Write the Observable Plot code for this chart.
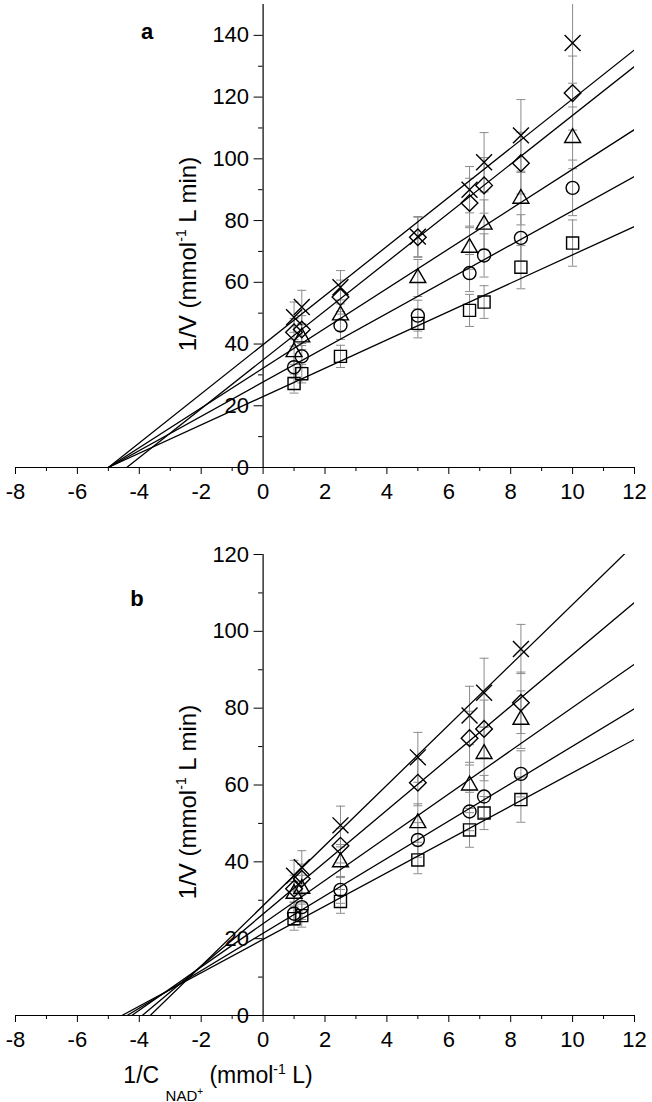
<!DOCTYPE html>
<html><head><meta charset="utf-8">
<script src="https://cdn.jsdelivr.net/npm/d3@7"></script>
<script src="https://cdn.jsdelivr.net/npm/@observablehq/plot@0.6"></script>
<style>body{margin:0;background:#fff} #chart svg{display:block}</style>
</head><body><div id="chart"></div>
<script>
// ---- data ----
const seriesNames = ["square", "circle", "triangle", "diamond", "cross"];
const symbols = ["square", "circle", "triangle", "diamond2", "times"];
const symbolR = [6.8, 6.5, 5.9, 7.5, 7.3];

const xTicks = [-8, -6, -4, -2, 0, 2, 4, 6, 8, 10, 12];
const xMinor = [-7, -5, -3, -1, 1, 3, 5, 7, 9, 11];

// panel a
const xA = [1, 1.25, 2.5, 5, 6.67, 7.14, 8.33, 10];
const aSquare   = [27.2, 30.4, 36.0, 46.7, 50.9, 53.6, 64.9, 72.7];
const aCircle   = [32.5, 36.0, 46.0, 49.2, 63.0, 68.7, 74.4, 90.6];
const aTriangle = [37.4, 42.2, 49.3, 61.4, 71.2, 78.7, 87.1, 106.8];
const aDiamond  = [43.8, 44.7, 55.2, 74.6, 85.7, 91.4, 98.6, 121.3];
const aCross    = [48.7, 52.0, 58.4, 74.8, 90.0, 98.9, 107.6, 137.5];
const aSquareErr   = [3.1, 3.0, 3.6, 4.7, 5.2, 5.3, 7.0, 7.5];
const aCircleErr   = [3.5, 3.5, 4.5, 5.0, 6.0, 7.0, 7.5, 9.0];
const aTriangleErr = [4.0, 4.0, 5.0, 6.0, 7.0, 8.0, 8.5, 10.0];
const aDiamondErr  = [4.5, 4.5, 5.5, 6.5, 8.0, 9.0, 10.0, 12.0];
const aCrossErr    = [4.9, 5.4, 5.4, 6.5, 7.5, 9.6, 11.6, 13.0];
const aSlopes     = [4.59, 5.55, 6.44, 7.92, 7.96];
const aIntercepts = [23.0, 27.7, 32.2, 34.9, 39.8];
const aYTicks = [0, 20, 40, 60, 80, 100, 120, 140];
const aYMinor = [10, 30, 50, 70, 90, 110, 130];

// panel b
const xB = [1, 1.25, 2.5, 5, 6.67, 7.14, 8.33];
const bSquare   = [25.2, 26.0, 29.7, 40.5, 48.3, 52.7, 56.2];
const bCircle   = [26.5, 28.2, 32.7, 45.7, 53.1, 57.0, 62.9];
const bTriangle = [31.7, 33.0, 39.9, 50.1, 59.9, 68.1, 77.0];
const bDiamond  = [33.0, 35.6, 44.2, 60.6, 72.2, 74.6, 81.4];
const bCross    = [36.4, 38.6, 49.5, 67.2, 78.1, 84.0, 95.4];
const bSquareErr   = [3.0, 3.0, 3.1, 3.6, 4.5, 4.3, 5.9];
const bCircleErr   = [3.0, 3.2, 3.5, 4.5, 5.0, 5.5, 6.0];
const bTriangleErr = [3.2, 3.5, 4.0, 5.0, 6.0, 7.0, 7.5];
const bDiamondErr  = [3.5, 3.8, 4.5, 6.0, 7.0, 7.5, 8.0];
const bCrossErr    = [4.0, 4.3, 5.0, 6.5, 7.6, 9.0, 6.4];
const bSlopes     = [4.34, 4.87, 5.63, 6.76, 7.84];
const bIntercepts = [19.8, 21.4, 23.9, 26.4, 28.6];
const bYTicks = [0, 20, 40, 60, 80, 100, 120];
const bYMinor = [10, 30, 50, 70, 90, 110];

// ---- drawing ----
const W = 652, mL = 15, mR = 18;
const xDomain = [-8, 12];
const FONT = "'Liberation Sans', Arial, sans-serif";
const capSymbol = {draw(ctx) { ctx.moveTo(-4.5, 0); ctx.lineTo(4.5, 0); }};
const fmt = d => String(d);
const TICKFONT = 22;

function makePanel({xs, vals, errs, slopes, intercepts, yMax, yTicks, yMinor, height, mT, mB}) {
  const pts = [];
  vals.forEach((arr, s) => arr.forEach((v, i) => pts.push({s, x: xs[i], y: v, e: errs[s][i]})));
  const lines = [];
  slopes.forEach((m, s) => {
    const b = intercepts[s];
    lines.push({s, x: -b / m, y: 0}, {s, x: xDomain[1], y: b + m * xDomain[1]});
  });
  const dx = (0 - xDomain[0]) / (xDomain[1] - xDomain[0]) * (W - mL - mR);
  const grey = "#8c8c8c";
  return Plot.plot({
    width: W, height, marginLeft: mL, marginRight: mR, marginTop: mT, marginBottom: mB,
    x: {domain: xDomain, label: null},
    y: {domain: [0, yMax], label: null},
    style: {fontFamily: FONT, fontSize: "22px", background: "white", overflow: "visible", color: "black"},
    marks: [
      Plot.ruleX(pts, {x: "x", y1: d => d.y - d.e, y2: d => d.y + d.e, stroke: grey, strokeWidth: 1, clip: true}),
      Plot.dot(pts, {x: "x", y: d => d.y + d.e, symbol: capSymbol, stroke: grey, fill: "none", strokeWidth: 1, clip: true}),
      Plot.dot(pts, {x: "x", y: d => d.y - d.e, symbol: capSymbol, stroke: grey, fill: "none", strokeWidth: 1, clip: true}),
      Plot.line(lines, {x: "x", y: "y", z: "s", stroke: "black", strokeWidth: 1.3, clip: true}),
      ...symbols.map((sym, s) => Plot.dot(pts.filter(d => d.s === s), {
        x: "x", y: "y", symbol: sym, r: symbolR[s], stroke: "black", strokeWidth: 1.4, fill: "none"
      })),
      Plot.ruleY([0], {stroke: "black", strokeWidth: 1.2}),
      Plot.ruleX([0], {stroke: "black", strokeWidth: 1.2}),
      Plot.axisX({ticks: xTicks, tickSize: 7, tickPadding: 9, tickFormat: fmt, fontSize: TICKFONT, label: null}),
      Plot.axisX({ticks: xMinor, tickSize: 4, fill: "none", label: null}),
      Plot.axisY({ticks: yTicks, tickSize: 9, tickPadding: 5, tickFormat: fmt, fontSize: TICKFONT, dx, label: null}),
      Plot.axisY({ticks: yMinor, tickSize: 4.5, fill: "none", dx, label: null})
    ]
  });
}

function yLabel(svg, cx, cy) {
  const t = svg.append("text")
    .attr("transform", `translate(${cx},${cy}) rotate(-90)`)
    .attr("text-anchor", "middle").attr("font-family", FONT).attr("font-size", 24).attr("fill", "black");
  t.append("tspan").text("1/V (mmol");
  t.append("tspan").attr("font-size", 14).attr("dy", -10).text("-1");
  t.append("tspan").attr("dy", 10).text(" L min)");
}
function letter(svg, x, y, s) {
  svg.append("text").attr("x", x).attr("y", y).attr("font-family", FONT)
    .attr("font-weight", "bold").attr("font-size", 22).attr("fill", "black").text(s);
}

const chart = document.getElementById("chart");

const pa = makePanel({
  xs: xA,
  vals: [aSquare, aCircle, aTriangle, aDiamond, aCross],
  errs: [aSquareErr, aCircleErr, aTriangleErr, aDiamondErr, aCrossErr],
  slopes: aSlopes, intercepts: aIntercepts, yMax: 150, yTicks: aYTicks, yMinor: aYMinor,
  height: 520, mT: 4, mB: 53
});
chart.appendChild(pa);
const sa = d3.select(pa);
yLabel(sa, 196, 254);
letter(sa, 147, 39, "a");

const pb = makePanel({
  xs: xB,
  vals: [bSquare, bCircle, bTriangle, bDiamond, bCross],
  errs: [bSquareErr, bCircleErr, bTriangleErr, bDiamondErr, bCrossErr],
  slopes: bSlopes, intercepts: bIntercepts, yMax: 120, yTicks: bYTicks, yMinor: bYMinor,
  height: 582, mT: 34, mB: 87
});
chart.appendChild(pb);
const sb = d3.select(pb);
yLabel(sb, 196, 282);
letter(sb, 137, 86, "b");

// x-axis label with subscript / superscript
const xl = sb.append("text").attr("x", 218).attr("y", 563)
  .attr("font-family", FONT).attr("font-size", 23).attr("fill", "black");
xl.append("tspan").text("1/C ");
xl.append("tspan").attr("font-size", 15).attr("dy", 18).text("NAD");
xl.append("tspan").attr("font-size", 10).attr("dy", -6).text("+");
xl.append("tspan").attr("dy", -12).text(" (mmol");
xl.append("tspan").attr("font-size", 14).attr("dy", -9).text("-1");
xl.append("tspan").attr("dy", 9).text(" L)");
</script>
</body></html>
